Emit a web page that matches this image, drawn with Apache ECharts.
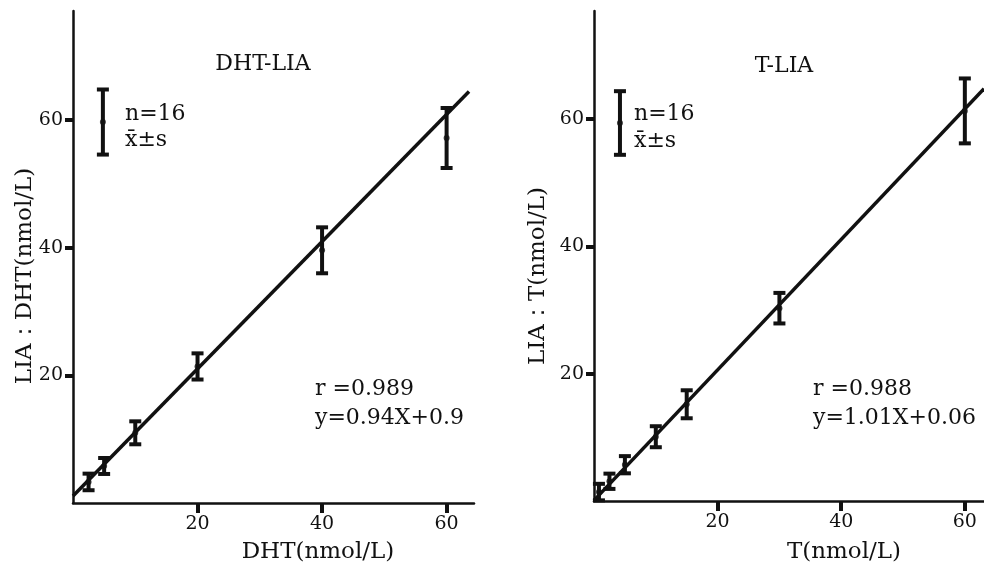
<!DOCTYPE html>
<html>
<head>
<meta charset="utf-8">
<script src="https://cdn.jsdelivr.net/npm/echarts@6/dist/echarts.min.js"></script>
<style>
html,body{margin:0;padding:0;background:#fff;}
#chart{width:984px;height:562px;}
</style>
</head>
<body>
<div id="chart"></div>
<script>
// ---- Data ----
// Left panel: DHT-LIA
const dhtX    = [2.5, 5, 10, 20, 40, 60];
const dhtMean = [3.3, 5.8, 11.0, 21.4, 39.6, 57.2];
const dhtSD   = [1.3, 1.25, 1.8, 2.05, 3.6, 4.7];
const dhtKey  = [4.8, 59.7, 5.1];          // x, mean, sd of the key bar
const dhtFitX = [0, 63.6];
const dhtFitY = [1.1, 64.5];
// Right panel: T-LIA
const tX    = [0.8, 2.5, 5, 10, 15, 30, 60];
const tMean = [1.4, 3.1, 5.7, 10.1, 15.2, 30.3, 61.3];
const tSD   = [1.3, 1.2, 1.35, 1.65, 2.2, 2.4, 5.1];
const tKey  = [4.2, 59.4, 5.0];
const tFitX = [0, 63.1];
const tFitY = [0.1, 64.8];
// Ticks
const tickVals = [20, 40, 60];

const FONT = '"DejaVu Serif", "Liberation Serif", serif';
const INK = '#111';

function errData(xs, m, s) {
  return xs.map((x, i) => [x, m[i] - s[i], m[i] + s[i]]);
}
function errRender(params, api) {
  const x = api.value(0);
  const lo = api.coord([x, api.value(1)]);
  const hi = api.coord([x, api.value(2)]);
  const w = 6;
  const st = { stroke: INK, lineWidth: 4 };
  return {
    type: 'group',
    children: [
      { type: 'line', shape: { x1: lo[0], y1: lo[1], x2: hi[0], y2: hi[1] }, style: st },
      { type: 'line', shape: { x1: lo[0] - w, y1: lo[1], x2: lo[0] + w, y2: lo[1] }, style: st },
      { type: 'line', shape: { x1: hi[0] - w, y1: hi[1], x2: hi[0] + w, y2: hi[1] }, style: st }
    ]
  };
}
function xAx(idx, max) {
  return {
    type: 'value', gridIndex: idx, min: 0, max: max,
    splitLine: { show: false },
    axisLine: { show: true, onZero: false, lineStyle: { color: INK, width: 2.5 } },
    axisTick: { show: true, customValues: tickVals, length: 10, lineStyle: { color: INK, width: 4 } },
    axisLabel: { customValues: tickVals, color: INK, fontFamily: FONT, fontSize: 19, margin: 12 }
  };
}
function yAx(idx, max) {
  return {
    type: 'value', gridIndex: idx, min: 0, max: max,
    splitLine: { show: false },
    axisLine: { show: true, onZero: false, lineStyle: { color: INK, width: 2.5 } },
    axisTick: { show: true, customValues: tickVals, length: 8, lineStyle: { color: INK, width: 4 } },
    axisLabel: { customValues: tickVals, color: INK, fontFamily: FONT, fontSize: 19, margin: 10 }
  };
}
function txt(x, y, s, opts) {
  return Object.assign({
    type: 'text', x: x, y: y,
    style: Object.assign({ text: s, fill: INK, font: '22px ' + FONT, align: 'left', verticalAlign: 'middle' }, opts || {})
  });
}

const chart = echarts.init(document.getElementById('chart'), null, { renderer: 'canvas' });
chart.setOption({
  backgroundColor: '#fff',
  animation: false,
  grid: [
    { left: 73, top: 11, width: 401, height: 492 },
    { left: 594, top: 11, width: 390, height: 490 }
  ],
  xAxis: [xAx(0, 64.4), xAx(1, 63.1)],
  yAxis: [yAx(0, 77.1), yAx(1, 77)],
  series: [
    { type: 'line', xAxisIndex: 0, yAxisIndex: 0, data: dhtFitX.map((x, i) => [x, dhtFitY[i]]),
      showSymbol: false, lineStyle: { color: INK, width: 3.5 }, silent: true },
    { type: 'custom', xAxisIndex: 0, yAxisIndex: 0, renderItem: errRender,
      data: errData(dhtX, dhtMean, dhtSD).concat([[dhtKey[0], dhtKey[1] - dhtKey[2], dhtKey[1] + dhtKey[2]]]) },
    { type: 'scatter', xAxisIndex: 0, yAxisIndex: 0, symbolSize: 6, itemStyle: { color: INK },
      data: dhtX.map((x, i) => [x, dhtMean[i]]).concat([[dhtKey[0], dhtKey[1]]]) },

    { type: 'line', xAxisIndex: 1, yAxisIndex: 1, data: tFitX.map((x, i) => [x, tFitY[i]]),
      showSymbol: false, lineStyle: { color: INK, width: 3.5 }, silent: true },
    { type: 'custom', xAxisIndex: 1, yAxisIndex: 1, renderItem: errRender,
      data: errData(tX, tMean, tSD).concat([[tKey[0], tKey[1] - tKey[2], tKey[1] + tKey[2]]]) },
    { type: 'scatter', xAxisIndex: 1, yAxisIndex: 1, symbolSize: 6, itemStyle: { color: INK },
      data: tX.map((x, i) => [x, tMean[i]]).concat([[tKey[0], tKey[1]]]) }
  ],
  graphic: [
    txt(263, 64, 'DHT-LIA', { align: 'center' }),
    txt(125, 114, 'n=16'),
    txt(125, 140, 'x\u0304\u00b1s'),
    txt(315, 389, 'r =0.989'),
    txt(315, 418, 'y=0.94X+0.9'),
    txt(318, 552, 'DHT(nmol/L)', { align: 'center', font: '23px ' + FONT }),
    { type: 'text', x: 25, y: 276, rotation: Math.PI / 2,
      style: { text: 'LIA：DHT(nmol/L)', fill: INK, font: '23px ' + FONT, align: 'center', verticalAlign: 'middle' } },

    txt(784, 66, 'T-LIA', { align: 'center' }),
    txt(634, 114, 'n=16'),
    txt(634, 141, 'x\u0304\u00b1s'),
    txt(813, 389, 'r =0.988'),
    txt(813, 418, 'y=1.01X+0.06'),
    txt(844, 552, 'T(nmol/L)', { align: 'center', font: '23px ' + FONT }),
    { type: 'text', x: 538, y: 276, rotation: Math.PI / 2,
      style: { text: 'LIA：T(nmol/L)', fill: INK, font: '23px ' + FONT, align: 'center', verticalAlign: 'middle' } }
  ]
});
</script>
</body>
</html>
